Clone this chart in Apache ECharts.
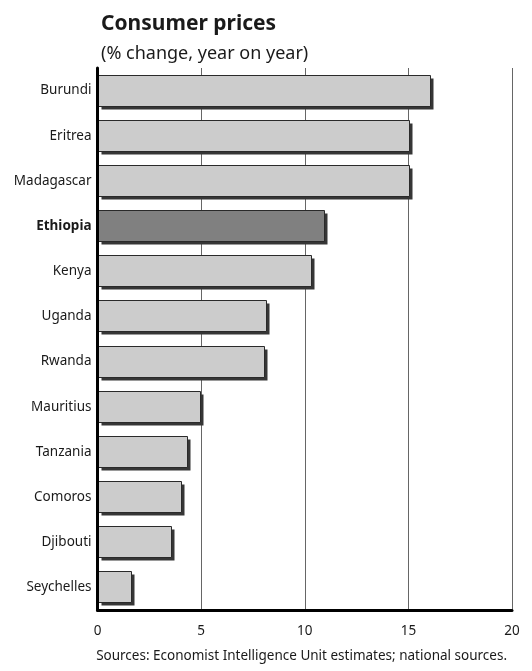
<!DOCTYPE html>
<html>
<head>
<meta charset="utf-8">
<script src="https://cdn.jsdelivr.net/npm/echarts@6/dist/echarts.min.js"></script>
<style>
  html, body { margin: 0; padding: 0; background: #fff; }
  #chart { width: 532px; height: 671px; }
</style>
</head>
<body>
<div id="chart"></div>
<script>
// Consumer prices, % change year on year, East African economies
const countries = ['Burundi', 'Eritrea', 'Madagascar', 'Ethiopia', 'Kenya', 'Uganda',
  'Rwanda', 'Mauritius', 'Tanzania', 'Comoros', 'Djibouti', 'Seychelles'];
const inflation = [16.0, 15.0, 15.0, 10.9, 10.3, 8.1, 8.0, 4.9, 4.3, 4.0, 3.5, 1.6];
const highlighted = 'Ethiopia';
const xTicks = { min: 0, max: 20, interval: 5 };

const FONT = '"Noto Sans", "Open Sans", sans-serif';
const INK = '#1a1a1a';
const BAR_H = 32;
const SHADOW = 3;

const chart = echarts.init(document.getElementById('chart'), null, { renderer: 'canvas' });

// Each bar: a flat dark drop shadow, then the filled, outlined bar on top.
function renderBar(params, api) {
  const cat = api.value(1);
  const start = api.coord([0, cat]);
  const end = api.coord([api.value(0), cat]);
  const x0 = Math.round(start[0]) + 0.5;
  const w = Math.round(end[0] - start[0]);
  const y0 = Math.round(start[1] - BAR_H / 2) + 0.5;
  const fill = countries[params.dataIndex] === highlighted ? '#808080' : '#cccccc';
  return {
    type: 'group',
    children: [
      {
        type: 'rect',
        shape: { x: x0 + SHADOW, y: y0 + SHADOW, width: w, height: BAR_H - 1 },
        style: { fill: '#363636' }
      },
      {
        type: 'rect',
        shape: { x: x0, y: y0, width: w, height: BAR_H - 1 },
        style: { fill: fill, stroke: '#2a2a2a', lineWidth: 1 }
      }
    ]
  };
}

chart.setOption({
  animation: false,
  backgroundColor: '#ffffff',
  textStyle: { fontFamily: FONT },
  title: [
    {
      text: 'Consumer prices',
      left: 96,
      top: 9,
      textStyle: { fontFamily: FONT, fontSize: 21, fontWeight: 'bold', color: INK }
    },
    {
      text: '(% change, year on year)',
      left: 96,
      top: 40,
      textStyle: { fontFamily: FONT, fontSize: 18, fontWeight: 'normal', color: INK }
    },
    {
      text: 'Sources: Economist Intelligence Unit estimates; national sources.',
      right: 20,
      top: 644,
      textStyle: { fontFamily: FONT, fontSize: 13.5, fontWeight: 'normal', color: INK }
    }
  ],
  grid: { left: 97.5, right: 20, top: 68, bottom: 61, containLabel: false },
  xAxis: {
    type: 'value',
    min: xTicks.min,
    max: xTicks.max,
    interval: xTicks.interval,
    z: 0,
    axisLine: { show: true, onZero: false, lineStyle: { color: '#000', width: 3 } },
    axisTick: { show: false },
    axisLabel: { color: INK, fontSize: 13.5, margin: 14, fontFamily: FONT },
    splitLine: { show: true, lineStyle: { color: '#666', width: 1 } }
  },
  yAxis: {
    type: 'category',
    data: countries,
    inverse: true,
    z: 5,
    axisLine: { show: true, lineStyle: { color: '#000', width: 3 } },
    axisTick: { show: false },
    axisLabel: {
      fontSize: 13.5,
      margin: 6,
      fontFamily: FONT,
      color: INK,
      formatter: v => v === highlighted ? '{b|' + v + '}' : v,
      rich: { b: { fontWeight: 'bold', fontSize: 13.5, fontFamily: FONT, color: INK } }
    },
    splitLine: { show: false }
  },
  series: [{
    type: 'custom',
    z: 2,
    renderItem: renderBar,
    encode: { x: 0, y: 1 },
    data: inflation.map((v, i) => [v, i])
  }]
});
</script>
</body>
</html>
